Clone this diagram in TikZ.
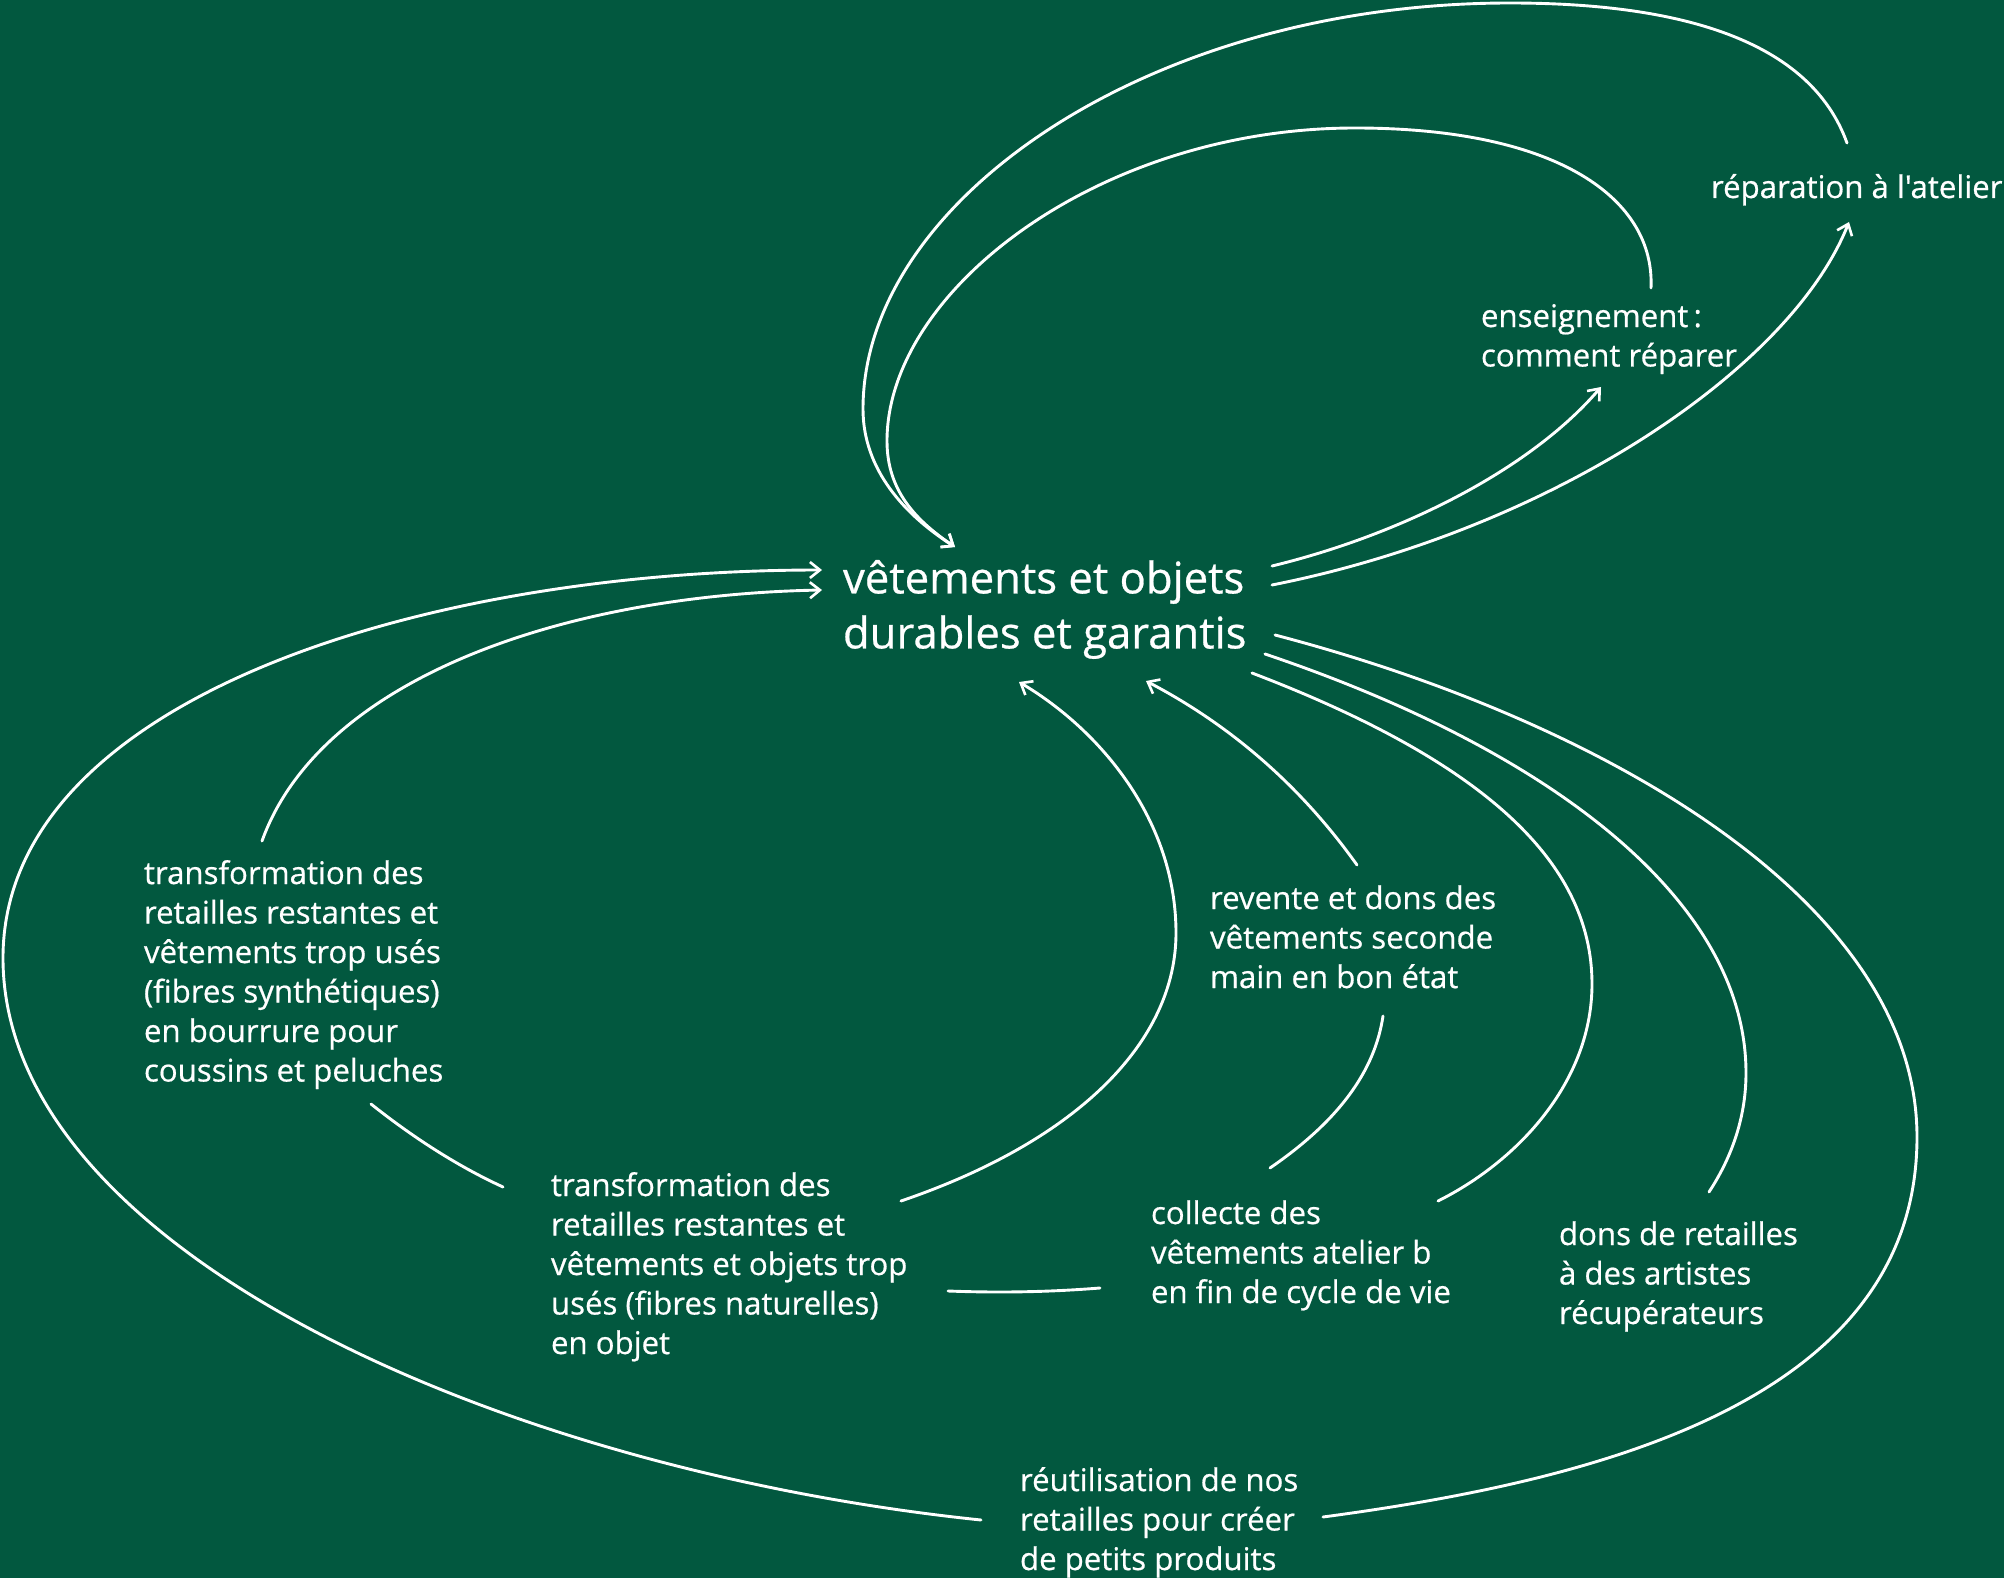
\documentclass[tikz,border=0pt]{standalone}
\usepackage{fontspec}
\newfontfamily\ff{Open Sans}[FakeBold=0.6]
\usetikzlibrary{arrows.meta}
\definecolor{bg}{HTML}{02583F}
\begin{document}
\begin{tikzpicture}[x=0.5pt,y=-0.5pt,
  lbl/.style={anchor=north west,inner sep=0pt,outer sep=0pt,text=white,align=left,
    font=\ff\fontsize{15.6}{19.75}\selectfont},
  big/.style={anchor=north west,inner sep=0pt,outer sep=0pt,text=white,align=left,
    font=\ff\fontsize{21.8}{27.5}\selectfont},
  con/.style={draw=white,line width=1.45pt,line cap=round},
  arr/.style={con,-{Straight Barb[length=5pt,width=8pt,line width=1.3pt]}}]
\fill[bg] (0,0) rectangle (2004,1578);
\useasboundingbox (0,0) rectangle (2004,1578);
\newcommand\fl{\rule{0pt}{12pt}}
\newcommand\fb{\rule{0pt}{16pt}}
% nodes
\node[big] (main) at (843,560) {\fb v\^etements et objets\\durables et garantis};
\node[lbl] (rep) at (1711,174) {\fl réparation à l'atelier};
\node[lbl] (ens) at (1481,303) {\fl enseignement\,:\\comment réparer};
\node[lbl] (tsyn) at (144,860) {\fl transformation des\\retailles restantes et\\vêtements trop usés\\(fibres synthétiques)\\en bourrure pour\\coussins et peluches};
\node[lbl] (rev) at (1210,885) {\fl revente et dons des\\vêtements seconde\\main en bon état};
\node[lbl] (tnat) at (551,1172) {\fl transformation des\\retailles restantes et\\vêtements et objets trop\\usés (fibres naturelles)\\en objet};
\node[lbl] (coll) at (1151,1200) {\fl collecte des\\vêtements atelier b\\en fin de cycle de vie};
\node[lbl] (dons) at (1559,1221) {\fl dons de retailles\\à des artistes\\récupérateurs};
\node[lbl] (reut) at (1020,1467) {\fl réutilisation de nos\\retailles pour créer\\de petits produits};
% connector ends
\coordinate (aS) at (1847,143);
\coordinate (bS) at (1651,288);
\coordinate (abE) at (955,547);
\coordinate (cS) at (1272,566);
\coordinate (cE) at (1601,387);
\coordinate (dS) at (1272,585);
\coordinate (dE) at (1849,222);
\coordinate (eS) at (981,1520);
\coordinate (eE) at (822,570);
\coordinate (fS) at (262,841);
\coordinate (fE) at (822,590);
\coordinate (gS) at (901,1201);
\coordinate (gE) at (1019,682);
\coordinate (hS) at (1357,865);
\coordinate (hE) at (1146,681);
\coordinate (iS) at (1275,635);
\coordinate (iE) at (1323,1517);
\coordinate (jS) at (1265,654);
\coordinate (jE) at (1709,1192);
\coordinate (kS) at (1252,673);
\coordinate (kE) at (1438,1201);
\coordinate (lS) at (1270,1168);
\coordinate (lE) at (1383,1016);
\coordinate (mS) at (371,1104);
\coordinate (mE) at (503,1187);
\coordinate (nS) at (1100,1288);
\coordinate (nE) at (948,1291);
% connectors
\draw[arr] (aS) .. controls (1810,40) and (1680,3) .. (1510,3) .. controls (1150,3) and (863,200) .. (863,409) .. controls (863,470) and (905,515) .. (abE);
\draw[arr] (bS) .. controls (1655,200) and (1560,128) .. (1355,128) .. controls (1100,128) and (887,290) .. (887,441) .. controls (887,490) and (915,520) .. (abE);
\draw[arr] (cS) .. controls (1400,535) and (1530,470) .. (cE);
\draw[arr] (dS) .. controls (1550,530) and (1790,370) .. (dE);
\draw[arr] (eS) .. controls (500,1470) and (3,1250) .. (3,958) .. controls (3,700) and (420,570) .. (eE);
\draw[arr] (fS) .. controls (320,680) and (560,595) .. (fE);
\draw[arr] (gS) .. controls (1080,1140) and (1176,1040) .. (1176,933) .. controls (1176,820) and (1100,730) .. (gE);
\draw[arr] (hS) .. controls (1300,785) and (1230,725) .. (hE);
\draw[con] (iS) .. controls (1600,720) and (1917,900) .. (1917,1137) .. controls (1917,1400) and (1600,1480) .. (iE);
\draw[con] (jS) .. controls (1550,750) and (1746,900) .. (1746,1073) .. controls (1746,1120) and (1730,1160) .. (jE);
\draw[con] (kS) .. controls (1480,760) and (1592,860) .. (1592,984) .. controls (1592,1080) and (1520,1160) .. (kE);
\draw[con] (lS) .. controls (1340,1120) and (1375,1070) .. (lE);
\draw[con] (mS) .. controls (410,1135) and (455,1165) .. (mE);
\draw[con] (nS) .. controls (1050,1292) and (1000,1293) .. (nE);
\end{tikzpicture}
\end{document}
